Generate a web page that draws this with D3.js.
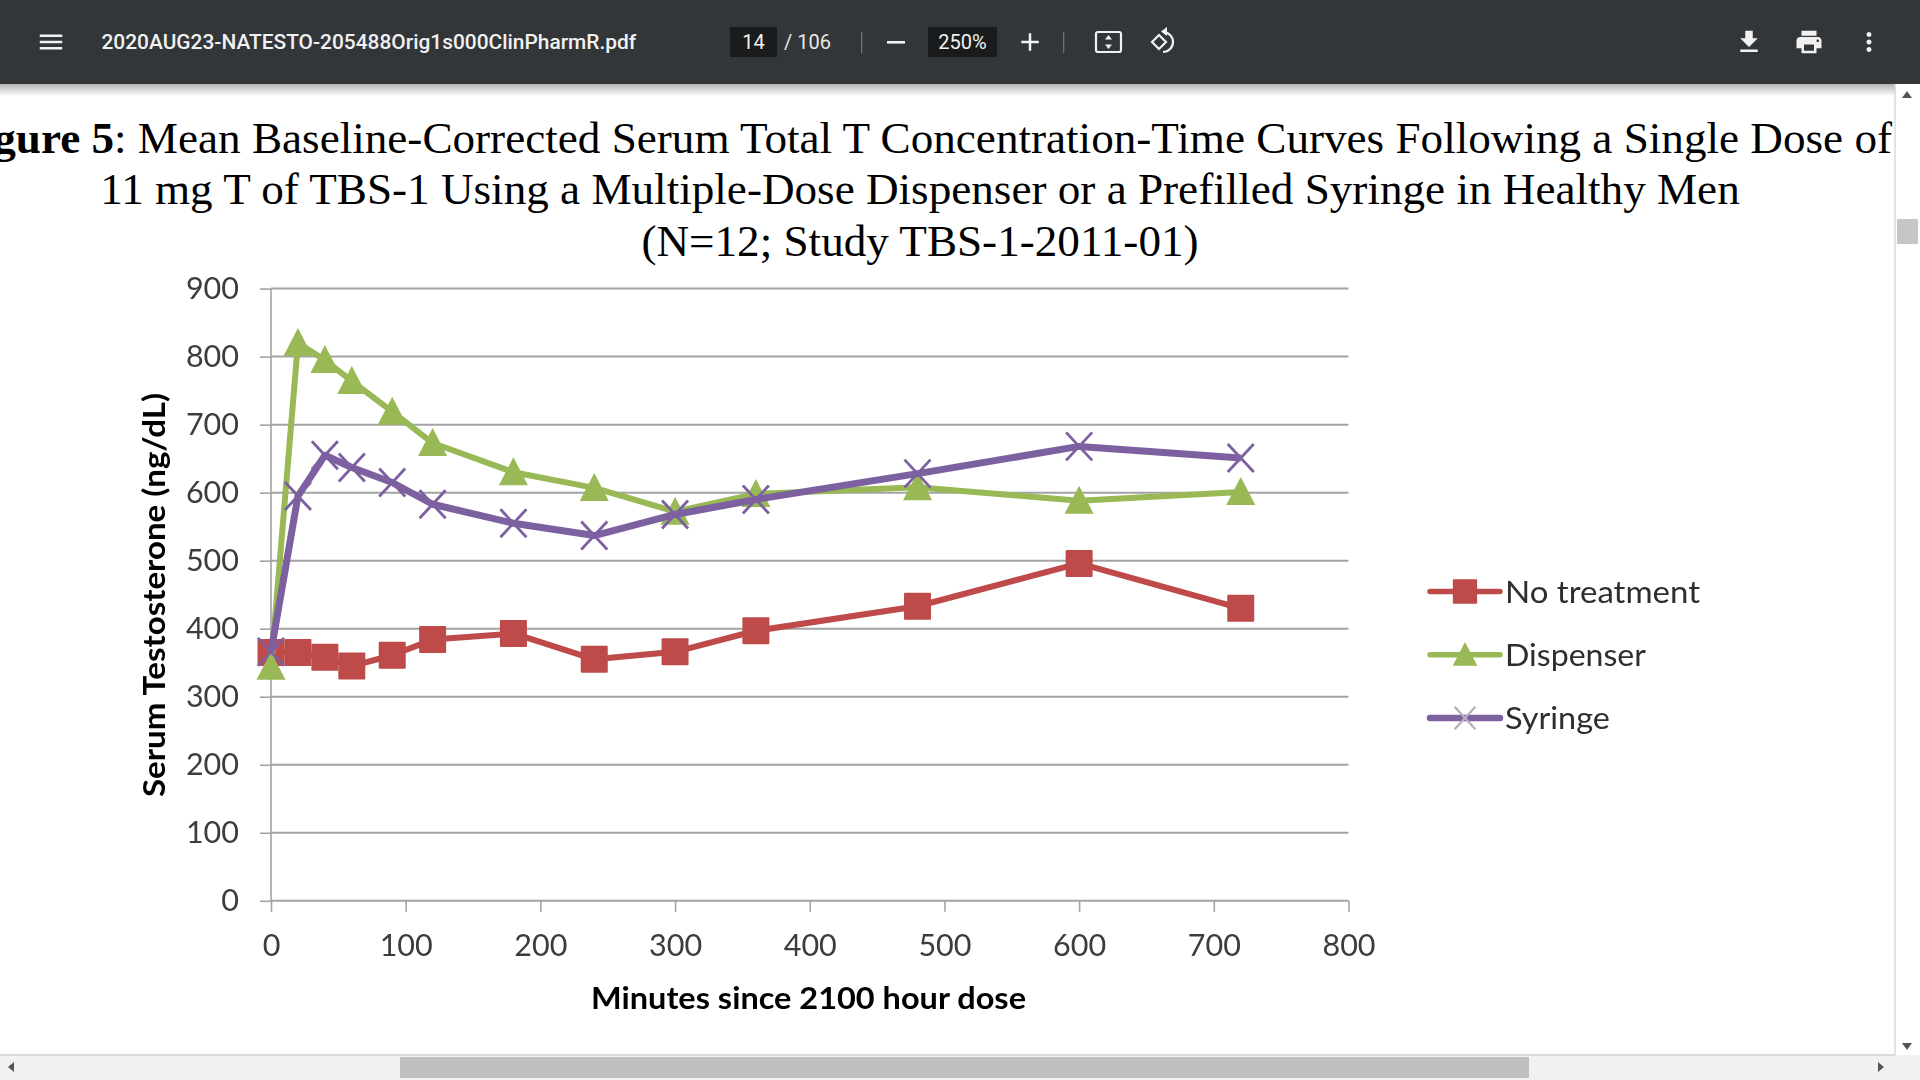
<!DOCTYPE html>
<html><head><meta charset="utf-8">
<script src="https://d3js.org/d3.v7.min.js"></script>
<style>html,body{margin:0;padding:0;background:#fff;overflow:hidden}svg{display:block}</style>
</head><body><svg id="c" width="1920" height="1080"></svg>
<script>
const minutes=[0,20,40,60,90,120,180,240,300,360,480,600,720];
const noTreatment=[365,365,358,345,361,384,393,355,366,397,433,496,430];
const dispenser=[344,820,795,764,719,673,630,607,572,598,608,588,601];
const syringe=[366,595,655,637,615,583,555,537,568,590,628,668,651];
const xTicks=[0,100,200,300,400,500,600,700,800];
const yTicks=[0,100,200,300,400,500,600,700,800,900];
const seriesNames=["No treatment","Dispenser","Syringe"];
const seriesColors=["#BE4B48","#98B954","#7D60A0"];
const titleLines=["Mean Baseline-Corrected Serum Total T Concentration-Time Curves Following a Single Dose of","11 mg T of TBS-1 Using a Multiple-Dose Dispenser or a Prefilled Syringe in Healthy Men","(N=12; Study TBS-1-2011-01)"];

const svg=d3.select("#c");
const defs=svg.append("defs");
defs.append("filter").attr("id","soft").attr("x","-5%").attr("y","-5%").attr("width","110%").attr("height","110%")
 .append("feGaussianBlur").attr("stdDeviation",0.55);
const sh=defs.append("linearGradient").attr("id","sh").attr("x1",0).attr("y1",0).attr("x2",0).attr("y2",1);
sh.append("stop").attr("offset",0).attr("stop-color","#000").attr("stop-opacity",.3);
sh.append("stop").attr("offset",1).attr("stop-color","#000").attr("stop-opacity",0);

svg.append("rect").attr("width",1920).attr("height",1080).attr("fill","#fff");

// title
const serif="'Liberation Serif',serif";
const t=svg.append("g").attr("font-family",serif).attr("fill","#000").attr("font-size",45.15);
const first=t.append("text").attr("x",1892).attr("y",153).attr("text-anchor","end");
first.append("tspan").attr("font-weight","bold").text("Figure 5");
first.append("tspan").text(": "+titleLines[0]);
t.append("text").attr("x",920).attr("y",204).attr("text-anchor","middle").text(titleLines[1]);
t.append("text").attr("x",920).attr("y",256).attr("text-anchor","middle").text(titleLines[2]);

// chart
const x=d3.scaleLinear().domain([0,800]).range([271,1348.5]);
const y=d3.scaleLinear().domain([0,900]).range([900.8,288.6]);
const chart=svg.append("g").attr("filter","url(#soft)");
const sans="Lato,sans-serif";
const grid="#a3a3a3";

const yAxis=chart.append("g").attr("transform",`translate(${x(0)},0)`)
 .call(d3.axisLeft(y).tickValues(yTicks).tickSize(11).tickPadding(21).tickFormat(d3.format("d")));
const xAxis=chart.append("g").attr("transform",`translate(0,${y(0)})`)
 .call(d3.axisBottom(x).tickValues(xTicks).tickSize(11).tickPadding(22.5).tickFormat(d3.format("d")));
[yAxis,xAxis].forEach(a=>{
 a.attr("font-family",sans).attr("font-size",30.5);
 a.selectAll("text").attr("fill","#3c3c3c");
 a.selectAll("line").attr("stroke",grid).attr("stroke-width",1.6);
 a.select(".domain").remove();
});
yAxis.selectAll("text").attr("dy","0.31em");
chart.append("line").attr("x1",x(0)).attr("x2",x(0)).attr("y1",y(900)).attr("y2",y(0)).attr("stroke",grid).attr("stroke-width",1.6);
chart.append("g").selectAll("line").data(yTicks).join("line")
 .attr("x1",x(0)).attr("x2",x(800)).attr("y1",d=>y(d)).attr("y2",d=>y(d))
 .attr("stroke",grid).attr("stroke-width",2);

chart.append("text").attr("x",(591+1026)/2).attr("y",1009).attr("text-anchor","middle")
 .attr("font-family",sans).attr("font-weight","bold").attr("font-size",31).attr("fill","#000")
 .attr("textLength",435).attr("lengthAdjust","spacingAndGlyphs").text("Minutes since 2100 hour dose");
chart.append("text").attr("transform","translate(165,595) rotate(-90)").attr("text-anchor","middle")
 .attr("font-family",sans).attr("font-weight","bold").attr("font-size",31).attr("fill","#000")
 .attr("textLength",404).attr("lengthAdjust","spacingAndGlyphs").text("Serum Testosterone (ng/dL)");

const line=d3.line().x(d=>x(d.t)).y(d=>y(d.v));
const sq=g=>g.append("rect").attr("x",-13.5).attr("y",-13.5).attr("width",27).attr("height",27).attr("rx",1);
const tri=g=>g.append("path").attr("d","M0,-15 L14.5,13 L-14.5,13 Z");
const cross=g=>g.append("path").attr("d","M-13,-14 L13,14 M-13,14 L13,-14").attr("fill","none").attr("stroke-width",2.8);
const markers=[sq,tri,cross];
[noTreatment,dispenser,syringe].forEach((vals,i)=>{
 const c=seriesColors[i];
 const pts=minutes.map((m,j)=>({t:m,v:vals[j]}));
 const g=chart.append("g");
 g.append("path").attr("d",line(pts)).attr("fill","none").attr("stroke",c).attr("stroke-width",i==2?7:6).attr("stroke-linejoin","round");
 g.selectAll("g").data(pts).join("g").attr("transform",d=>`translate(${x(d.t)},${y(d.v)})`)
  .attr("fill",c).attr("stroke",c).attr("stroke-width",0).each(function(){markers[i](d3.select(this)).attr("stroke",c)});
});

// legend
const legY=d3.scalePoint().domain(seriesNames).range([591.5,718]);
const legendTextWidths=[195,141,105];
seriesNames.forEach((n,i)=>{
 const c=seriesColors[i];
 const g=chart.append("g").attr("transform",`translate(0,${legY(n)})`);
 g.append("line").attr("x1",1430).attr("x2",1500).attr("stroke",c).attr("stroke-width",i==2?6.5:5.5).attr("stroke-linecap","round");
 const m=g.append("g").attr("transform","translate(1465,0)").attr("fill",c).attr("stroke",c).attr("stroke-width",0);
 const mk=markers[i](m);
 if(i==0) mk.attr("transform","scale(.9)");
 if(i==1) mk.attr("transform","scale(.85)");
 if(i==2) mk.attr("transform","scale(.8)").attr("stroke","#b5aec2");
 g.append("text").attr("x",1505).attr("y",11).attr("font-family",sans).attr("font-size",31.5).attr("fill","#2e2e2e")
  .attr("textLength",legendTextWidths[i]).attr("lengthAdjust","spacingAndGlyphs").text(n);
});

// viewer chrome
const bar=svg.append("g");
bar.append("rect").attr("y",84).attr("width",1920).attr("height",12).attr("fill","url(#sh)");
bar.append("rect").attr("width",1920).attr("height",84).attr("fill","#323639");
const rob="Roboto,sans-serif";
const ico=(d,cx,cy,s,fill)=>bar.append("path").attr("d",d).attr("fill",fill||"#f1f1f1").attr("transform",`translate(${cx-12*s},${cy-12*s}) scale(${s})`);
ico("M3 18h18v-2H3v2zm0-5h18v-2H3v2zm0-7v2h18V6H3z",51,42,1.25);
bar.append("text").attr("x",101.5).attr("y",48.5).attr("font-family",rob).attr("font-weight",500).attr("font-size",20.9).attr("fill","#f1f1f1").text("2020AUG23-NATESTO-205488Orig1s000ClinPharmR.pdf");
bar.append("rect").attr("x",730).attr("y",27).attr("width",47).attr("height",30).attr("fill","#191b1c");
bar.append("text").attr("x",753.5).attr("y",49).attr("text-anchor","middle").attr("font-family",rob).attr("font-size",20).attr("fill","#f1f1f1").text("14");
bar.append("text").attr("x",784).attr("y",48.5).attr("font-family",rob).attr("font-size",20).attr("fill","#e8e8e8").text("/ 106");
bar.append("rect").attr("x",861).attr("y",32).attr("width",1.3).attr("height",21).attr("fill","#6e7275");
bar.append("rect").attr("x",887).attr("y",41).attr("width",18).attr("height",2.6).attr("fill","#f1f1f1");
bar.append("rect").attr("x",928).attr("y",27).attr("width",69).attr("height",30).attr("fill","#191b1c");
bar.append("text").attr("x",962.5).attr("y",49).attr("text-anchor","middle").attr("font-family",rob).attr("font-size",20).attr("fill","#f1f1f1").text("250%");
ico("M19 13h-6v6h-2v-6H5v-2h6V5h2v6h6v2z",1030,42,1.25);
bar.append("rect").attr("x",1063).attr("y",32).attr("width",1.3).attr("height",21).attr("fill","#6e7275");
bar.append("rect").attr("x",1096).attr("y",32).attr("width",25).attr("height",20).attr("rx",2).attr("fill","none").attr("stroke","#f1f1f1").attr("stroke-width",2.2);
bar.append("path").attr("d","M1108.5,35 l3.5,4.5 h-7 Z M1108.5,49 l3.5,-4.5 h-7 Z").attr("fill","#f1f1f1");
bar.append("path").attr("d","M1163,32 A10,10 0 1 1 1163,52").attr("fill","none").attr("stroke","#f1f1f1").attr("stroke-width",2.2);
bar.append("path").attr("d","M1167,27 v9 l-6,-4.5 Z").attr("fill","#f1f1f1");
bar.append("path").attr("d","M1159,35 l7,7 -7,7 -7,-7 Z").attr("fill","none").attr("stroke","#f1f1f1").attr("stroke-width",2.2);
ico("M19 9h-4V3H9v6H5l7 7 7-7zM5 18v2h14v-2H5z",1749,42,1.25);
ico("M19 8H5c-1.66 0-3 1.34-3 3v6h4v4h12v-4h4v-6c0-1.66-1.34-3-3-3zm-3 11H8v-5h8v5zm3-7c-.55 0-1-.45-1-1s.45-1 1-1 1 .45 1 1-.45 1-1 1zm-1-9H6v4h12V3z",1809,42,1.25);
ico("M12 8c1.1 0 2-.9 2-2s-.9-2-2-2-2 .9-2 2 .9 2 2 2zm0 2c-1.1 0-2 .9-2 2s.9 2 2 2 2-.9 2-2-.9-2-2-2zm0 6c-1.1 0-2 .9-2 2s.9 2 2 2 2-.9 2-2-.9-2-2-2z",1869,42,1.25);

// scrollbars
const sb=svg.append("g");
sb.append("rect").attr("x",1895).attr("y",84).attr("width",25).attr("height",971).attr("fill","#fff");
sb.append("line").attr("x1",1895).attr("x2",1895).attr("y1",84).attr("y2",1055).attr("stroke","#d0d0d0").attr("stroke-width",1.2);
sb.append("rect").attr("x",1897).attr("y",219).attr("width",21).attr("height",25).attr("fill","#c6c6c6");
sb.append("path").attr("d","M1907,91 l5,7 h-10 Z M1907,1050 l5,-7 h-10 Z").attr("fill","#555");
sb.append("rect").attr("y",1055).attr("width",1920).attr("height",25).attr("fill","#f1f1f1");
sb.append("line").attr("x1",0).attr("x2",1895).attr("y1",1055).attr("y2",1055).attr("stroke","#bdbdbd").attr("stroke-width",1.2);
sb.append("rect").attr("x",400).attr("y",1057).attr("width",1129).attr("height",21).attr("fill","#bfbfbf");
sb.append("path").attr("d","M8,1067 l6,-5 v10 Z M1884,1067 l-6,-5 v10 Z").attr("fill","#555");
</script></body></html>
